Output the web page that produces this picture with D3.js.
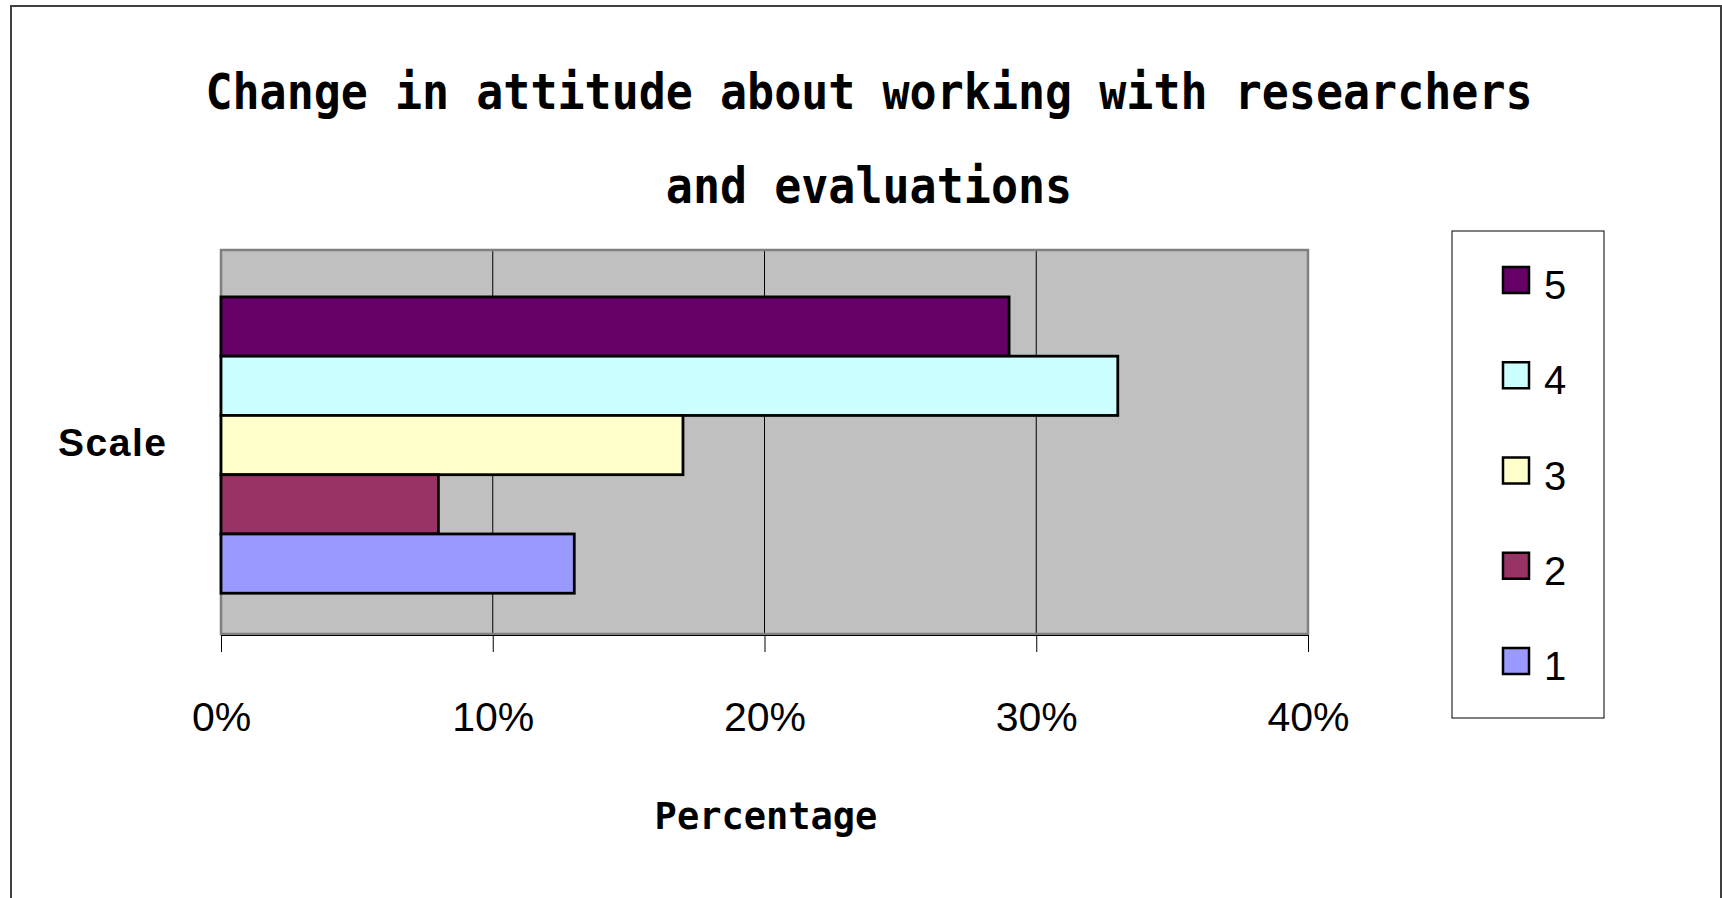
<!DOCTYPE html>
<html>
<head>
<meta charset="utf-8">
<script src="https://cdn.jsdelivr.net/npm/d3@7"></script>
<style>
  html, body { margin: 0; padding: 0; background: #ffffff; }
  svg { display: block; }
</style>
</head>
<body>
<svg id="chart" width="1722" height="898"></svg>
<script>
// ---- data ----
const titleLines = ["Change in attitude about working with researchers", "and evaluations"];
const seriesNames = ["5", "4", "3", "2", "1"];
const seriesValues = [29, 33, 17, 8, 13];
const seriesColors = ["#660066", "#CCFFFF", "#FFFFCC", "#993366", "#9999FF"];
const xTicks = [0, 10, 20, 30, 40];
const categoryLabel = "Scale";
const xAxisTitle = "Percentage";

const svg = d3.select("#chart");
const plot = { left: 221, right: 1308, top: 250, bottom: 634 };

// outer chart border
svg.append("rect").attr("x", 11).attr("y", 6).attr("width", 1710).attr("height", 900)
  .attr("fill", "#fff").attr("stroke", "#404040").attr("stroke-width", 2);

// title
const monoFont = "'DejaVu Sans Mono', monospace";
svg.append("g").selectAll("text").data(titleLines).join("text")
  .attr("transform", (d, i) => `translate(869,${109 + i * 94}) scale(1,1.12)`)
  .attr("text-anchor", "middle")
  .attr("font-family", monoFont).attr("font-weight", "bold").attr("font-size", 45)
  .text(d => d);

const x = d3.scaleLinear().domain([0, 40]).range([plot.left, plot.right]);
const y = d3.scaleBand().domain(seriesNames).range([plot.top, plot.bottom])
  .paddingInner(0).paddingOuter(0.74).align(0.535);

// plot background
svg.append("rect").attr("x", plot.left).attr("y", plot.top)
  .attr("width", plot.right - plot.left).attr("height", plot.bottom - plot.top)
  .attr("fill", "#C0C0C0");

// gridlines
svg.append("g").selectAll("line").data(xTicks.filter(t => t > 0 && t < 40)).join("line")
  .attr("x1", d => x(d)).attr("x2", d => x(d))
  .attr("y1", plot.top).attr("y2", plot.bottom)
  .attr("stroke", "#000").attr("stroke-width", 1);

// plot border
svg.append("rect").attr("x", plot.left).attr("y", plot.top)
  .attr("width", plot.right - plot.left).attr("height", plot.bottom - plot.top)
  .attr("fill", "none").attr("stroke", "#808080").attr("stroke-width", 2.5);

// bars
svg.append("g").selectAll("rect").data(seriesNames).join("rect")
  .attr("x", x(0)).attr("y", d => y(d))
  .attr("width", (d, i) => x(seriesValues[i]) - x(0))
  .attr("height", y.bandwidth())
  .attr("fill", (d, i) => seriesColors[i])
  .attr("stroke", "#000").attr("stroke-width", 2.8);

// x axis
const axis = d3.axisBottom(x).tickValues(xTicks).tickFormat(d => d + "%").tickSize(17).tickPadding(50);
const gAxis = svg.append("g").attr("transform", `translate(0,${plot.bottom + 1})`).call(axis);
gAxis.select(".domain").attr("stroke", "#000").attr("stroke-width", 1);
gAxis.selectAll(".tick line").attr("stroke", "#000").attr("stroke-width", 1);
gAxis.selectAll(".tick text")
  .attr("font-family", "'Liberation Sans', Arial, sans-serif")
  .attr("font-size", 41).attr("fill", "#000");

// axis titles
svg.append("text").attr("x", 766).attr("y", 829).attr("text-anchor", "middle")
  .attr("font-family", monoFont).attr("font-weight", "bold").attr("font-size", 37)
  .text(xAxisTitle);
svg.append("text").attr("x", 58).attr("y", 456)
  .attr("font-family", "'Liberation Sans', Arial, sans-serif").attr("font-weight", "bold")
  .attr("font-size", 39).attr("letter-spacing", 1.5)
  .text(categoryLabel);

// legend
svg.append("rect").attr("x", 1452).attr("y", 231).attr("width", 152).attr("height", 487)
  .attr("fill", "#fff").attr("stroke", "#000").attr("stroke-width", 1);
const ly = d3.scalePoint().domain(seriesNames).range([280, 661]);
const lg = svg.append("g").selectAll("g").data(seriesNames).join("g")
  .attr("transform", d => `translate(0,${ly(d)})`);
lg.append("rect").attr("x", 1503).attr("y", -13).attr("width", 26).attr("height", 26)
  .attr("fill", (d, i) => seriesColors[i]).attr("stroke", "#000").attr("stroke-width", 2.5);
lg.append("text").attr("x", 1544).attr("y", 19)
  .attr("font-family", "'Liberation Sans', Arial, sans-serif").attr("font-size", 40)
  .text(d => d);
</script>
</body>
</html>
